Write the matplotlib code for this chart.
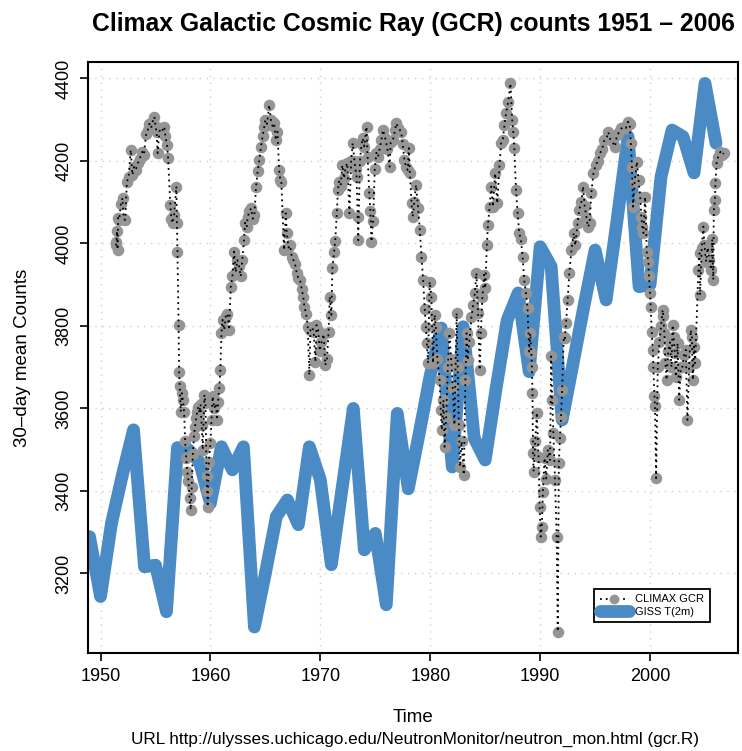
#!/usr/bin/env python3
# Climax GCR counts vs GISS T(2m), redrawn in matplotlib

import matplotlib
matplotlib.use('Agg')
import matplotlib.pyplot as plt
import numpy as np

plt.rcParams['font.family'] = ['Liberation Sans', 'DejaVu Sans']

# GISS T(2m), annual, scaled onto the count axis
giss_year = list(range(1949, 2007))
giss_scaled = [3289, 3144, 3322, 3440, 3548, 3216, 3220, 3107, 3505, 3500,
               3470, 3370, 3507, 3451, 3507, 3070, 3200, 3338, 3378, 3318,
               3507, 3427, 3221, 3410, 3600, 3257, 3297, 3124, 3588, 3405,
               3540, 3680, 3795, 3458, 3798, 3528, 3475, 3650, 3814, 3880,
               3689, 3992, 3944, 3572, 3710, 3850, 3984, 3863, 4057, 4259,
               3895, 3900, 4162, 4275, 4259, 4171, 4388, 4243]

# Climax neutron monitor, 30-day means
gcr_year = [
    1951.40, 1951.45, 1951.50, 1951.55, 1951.60, 1951.70, 1951.85, 1952.00,
    1952.10, 1952.25, 1952.40, 1952.55, 1952.75, 1952.90, 1953.05, 1953.20,
    1953.40, 1953.55, 1953.80, 1953.95, 1954.15, 1954.30, 1954.45, 1954.60,
    1954.75, 1954.90, 1955.00, 1955.10, 1955.20, 1955.35, 1955.50, 1955.65,
    1955.80, 1955.90, 1956.05, 1956.15, 1956.35, 1956.45, 1956.55, 1956.70,
    1956.90, 1956.95, 1957.00, 1957.10, 1957.15, 1957.20, 1957.30, 1957.40,
    1957.50, 1957.60, 1957.70, 1957.80, 1957.90, 1958.00, 1958.10, 1958.20,
    1958.30, 1958.40, 1958.50, 1958.60, 1958.70, 1958.80, 1958.90, 1959.00,
    1959.10, 1959.20, 1959.30, 1959.45, 1959.55, 1959.65, 1959.70, 1959.75,
    1959.85, 1960.00, 1960.10, 1960.20, 1960.35, 1960.50, 1960.60, 1960.70,
    1960.80, 1960.90, 1961.00, 1961.10, 1961.25, 1961.40, 1961.55, 1961.70,
    1961.85, 1962.00, 1962.15, 1962.30, 1962.45, 1962.60, 1962.75, 1962.90,
    1963.05, 1963.15, 1963.30, 1963.40, 1963.55, 1963.70, 1963.85, 1964.00,
    1964.15, 1964.30, 1964.45, 1964.60, 1964.75, 1964.90, 1965.00, 1965.15,
    1965.35, 1965.50, 1965.65, 1965.80, 1965.95, 1966.10, 1966.25, 1966.35,
    1966.45, 1966.70, 1966.85, 1966.95, 1967.10, 1967.25, 1967.40, 1967.55,
    1967.70, 1967.85, 1968.00, 1968.15, 1968.30, 1968.45, 1968.55, 1968.70,
    1968.85, 1969.00, 1969.10, 1969.25, 1969.40, 1969.55, 1969.65, 1969.80,
    1969.95, 1970.10, 1970.30, 1970.45, 1970.60, 1970.75, 1970.85, 1971.00,
    1971.10, 1971.25, 1971.35, 1971.50, 1971.60, 1971.70, 1971.85, 1972.00,
    1972.15, 1972.30, 1972.45, 1972.65, 1972.80, 1972.95, 1973.10, 1973.20,
    1973.30, 1973.40, 1973.45, 1973.60, 1973.75, 1973.85, 1974.00, 1974.20,
    1974.30, 1974.45, 1974.55, 1974.65, 1974.80, 1974.95, 1975.10, 1975.25,
    1975.40, 1975.55, 1975.70, 1975.90, 1976.10, 1976.30, 1976.40, 1976.60,
    1976.80, 1976.90, 1977.10, 1977.35, 1977.50, 1977.65, 1977.80, 1977.95,
    1978.05, 1978.15, 1978.30, 1978.40, 1978.55, 1978.70, 1978.90, 1979.05,
    1979.20, 1979.35, 1979.50, 1979.60, 1979.70, 1979.80, 1979.95, 1980.10,
    1980.25, 1980.40, 1980.50, 1980.65, 1980.85, 1980.95, 1981.05, 1981.20,
    1981.30, 1981.45, 1981.60, 1981.75, 1981.90, 1982.05, 1982.20, 1982.40,
    1982.50, 1982.60, 1982.70, 1982.85, 1983.05, 1983.20, 1983.30, 1983.40,
    1983.55, 1983.75, 1983.90, 1984.05, 1984.20, 1984.35, 1984.50, 1984.60,
    1984.75, 1984.90, 1985.00, 1985.15, 1985.25, 1985.40, 1985.55, 1985.70,
    1985.90, 1986.10, 1986.30, 1986.45, 1986.60, 1986.75, 1986.90, 1987.10,
    1987.30, 1987.45, 1987.55, 1987.65, 1987.80, 1987.95, 1988.10, 1988.25,
    1988.40, 1988.55, 1988.70, 1988.85, 1989.00, 1989.10, 1989.20, 1989.25,
    1989.30, 1989.35, 1989.40, 1989.55, 1989.70, 1989.85, 1989.95, 1990.05,
    1990.15, 1990.25, 1990.40, 1990.55, 1990.70, 1990.90, 1991.00, 1991.10,
    1991.20, 1991.35, 1991.50, 1991.60, 1991.70, 1991.80, 1991.90, 1992.00,
    1992.15, 1992.25, 1992.35, 1992.50, 1992.65, 1992.85, 1993.05, 1993.20,
    1993.40, 1993.55, 1993.75, 1993.90, 1994.05, 1994.20, 1994.35, 1994.50,
    1994.65, 1994.85, 1995.05, 1995.25, 1995.45, 1995.65, 1995.85, 1996.05,
    1996.20, 1996.40, 1996.60, 1996.80, 1997.00, 1997.20, 1997.40, 1997.60,
    1997.80, 1998.00, 1998.15, 1998.25, 1998.35, 1998.45, 1998.60, 1998.80,
    1998.95, 1999.10, 1999.20, 1999.30, 1999.40, 1999.55, 1999.70, 1999.85,
    1999.90, 2000.00, 2000.05, 2000.15, 2000.25, 2000.30, 2000.40, 2000.45,
    2000.55, 2000.70, 2000.85, 2001.00, 2001.15, 2001.20, 2001.30, 2001.40,
    2001.50, 2001.65, 2001.80, 2001.95, 2002.05, 2002.15, 2002.25, 2002.35,
    2002.50, 2002.65, 2002.80, 2002.95, 2003.10, 2003.25, 2003.40, 2003.55,
    2003.70, 2003.80, 2003.90, 2004.00, 2004.10, 2004.40, 2004.50, 2004.55,
    2004.70, 2004.85, 2004.95, 2005.10, 2005.25, 2005.40, 2005.55, 2005.65,
    2005.75, 2005.80, 2005.90, 2005.95, 2006.05, 2006.20, 2006.40, 2006.55,
    2006.70]
gcr_counts = [
    3995, 4004, 4030, 3985, 4062, 4058, 4095, 4110,
    4060, 4057, 4150, 4160, 4227, 4166, 4185, 4178,
    4195, 4205, 4222, 4215, 4265, 4275, 4290, 4280,
    4296, 4307, 4285, 4270, 4219, 4271, 4280, 4275,
    4283, 4260, 4239, 4206, 4093, 4060, 4049, 4070,
    4138, 4049, 3980, 3802, 3689, 3655, 3592, 3637,
    3620, 3592, 3520, 3479, 3445, 3425, 3382, 3354,
    3410, 3490, 3532, 3556, 3576, 3592, 3604, 3589,
    3610, 3560, 3500, 3633, 3612, 3435, 3400, 3362,
    3470, 3516, 3572, 3629, 3600, 3612, 3572, 3616,
    3649, 3693, 3782, 3815, 3790, 3825, 3830, 3790,
    3895, 3920, 3980, 3930, 3960, 3945, 3920, 3960,
    4008, 4050, 4040, 4065, 4078, 4085, 4060, 4070,
    4138, 4175, 4202, 4235, 4260, 4283, 4300, 4290,
    4336, 4300, 4285, 4291, 4250, 4271, 4178, 4155,
    4150, 3984, 4073, 4025, 3990, 3995, 3968, 3960,
    3950, 3928, 3915, 3912, 3890, 3870, 3847, 3830,
    3798, 3681, 3790, 3797, 3785, 3713, 3802, 3790,
    3740, 3760, 3780, 3705, 3720, 3785, 3871, 3827,
    3940, 3980, 4005, 4073, 4130, 4150, 4140, 4190,
    4158, 4185, 4195, 4073, 4200, 4243, 4200, 4180,
    4160, 4065, 4008, 4200, 4240, 4255, 4235, 4283,
    4210, 4122, 4078, 4004, 4055, 4180, 4220, 4210,
    4230, 4250, 4275, 4255, 4230, 4186, 4245, 4250,
    4275, 4291, 4280, 4271, 4240, 4202, 4185, 4178,
    4231, 4170, 4097, 4065, 4101, 4142, 4085, 4033,
    3968, 3912, 3840, 3798, 3758, 3710, 3907, 3871,
    3710, 3827, 3798, 3720, 3669, 3596, 3548, 3620,
    3507, 3580, 3700, 3782, 3720, 3650, 3560, 3831,
    3700, 3560, 3459, 3520, 3439, 3669, 3782, 3717,
    3760, 3822, 3851, 3879, 3928, 3831, 3693, 3782,
    3871, 3924, 3891, 3996, 4045, 4089, 4138, 4089,
    4170, 4097, 4190, 4243, 4250, 4287, 4316, 4344,
    4388, 4300, 4271, 4231, 4130, 4073, 4025, 4010,
    3968, 3911, 3880, 3843, 3738, 3782, 3734, 3701,
    3637, 3491, 3447, 3520, 3590, 3483, 3362, 3289,
    3313, 3398, 3480, 3430, 3500, 3475, 3726, 3620,
    3540, 3427, 3289, 3059, 3467, 3528, 3580, 3645,
    3774, 3770, 3806, 3863, 3928, 3984, 4025, 3995,
    4049, 4081, 4100, 4138, 4090, 4065, 4040, 4049,
    4122, 4170, 4190, 4200, 4219, 4230, 4250, 4255,
    4270, 4250, 4245, 4235, 4263, 4270, 4279, 4283,
    4280, 4295, 4290, 4243, 4186, 4089, 4150, 4198,
    4154, 4113, 4065, 4041, 4025, 4113, 3980, 3956,
    3920, 3879, 3847, 3786, 3742, 3701, 3629, 3605,
    3431, 3700, 3760, 3800, 3839, 3825, 3782, 3710,
    3669, 3740, 3760, 3700, 3802, 3774, 3734, 3677,
    3758, 3621, 3700, 3701, 3730, 3742, 3572, 3700,
    3790, 3774, 3669, 3750, 3710, 3936, 3976, 3875,
    3990, 4041, 3996, 3956, 3990, 3960, 3936, 4010,
    3912, 4081, 4105, 4146, 4194, 4210, 4222, 4215,
    4219]

x_ticks = [1950, 1960, 1970, 1980, 1990, 2000]
y_ticks = [3200, 3400, 3600, 3800, 4000, 4200, 4400]

GISS_BLUE = '#4a8bc6'
GCR_GRAY = '#959595'


def main():
    fig = plt.figure(figsize=(7.42, 7.51), dpi=100)
    ax = fig.add_axes([0.1186, 0.1305, 0.876, 0.787])

    ax.grid(True, color='#cfcfcf', linestyle=(0, (1, 4)), linewidth=1.0)
    ax.set_axisbelow(True)

    ax.plot(giss_year, giss_scaled, color=GISS_BLUE, linewidth=9.2,
            solid_capstyle='round', solid_joinstyle='round', zorder=2,
            label='GISS T(2m)')
    ax.plot(gcr_year, gcr_counts, linestyle='none', marker='o',
            markersize=7.3, markerfacecolor=GCR_GRAY,
            markeredgecolor=GCR_GRAY, zorder=3)
    ax.plot(gcr_year, gcr_counts, color='black', linestyle=(0, (1, 2.2)),
            linewidth=1.3, zorder=4)
    # legend proxy: gray point over a dotted line
    ax.plot([], [], color='black', linestyle=(0, (1, 2.2)), linewidth=1.3,
            marker='o', markersize=6, markerfacecolor=GCR_GRAY,
            markeredgecolor=GCR_GRAY, label='CLIMAX GCR')

    ax.set_xlim(1948.86, 2008.0)
    ax.set_ylim(3007, 4440)
    ax.set_xticks(x_ticks)
    ax.set_yticks(y_ticks)
    ax.set_xticklabels([str(v) for v in x_ticks])
    ax.set_yticklabels([str(v) for v in y_ticks], rotation=90, va='center')
    ax.tick_params(direction='out', length=6, width=1.2, labelsize=13,
                   pad=5)
    for sp in ax.spines.values():
        sp.set_linewidth(1.5)

    ax.set_title('Climax Galactic Cosmic Ray (GCR) counts 1951 \u2013 2006',
                 fontsize=17.8, fontweight='bold', pad=22)
    ax.set_ylabel('30\u2013day mean Counts', fontsize=13.5, labelpad=18)
    ax.set_xlabel('Time', fontsize=13.5, labelpad=17)
    fig.text(0.5 + 0.0593, 0.005,
             'URL http://ulysses.uchicago.edu/NeutronMonitor/neutron_mon.html (gcr.R)',
             ha='center', va='bottom', fontsize=12.3)

    handles, labels = ax.get_legend_handles_labels()
    order = [labels.index('CLIMAX GCR'), labels.index('GISS T(2m)')]
    leg = ax.legend([handles[i] for i in order], [labels[i] for i in order],
                    loc='lower right', bbox_to_anchor=(0.957, 0.052),
                    fontsize=8, frameon=True, fancybox=False,
                    edgecolor='black', framealpha=1, borderpad=0.5,
                    labelspacing=0.2, handlelength=2.6, handletextpad=0.6,
                    borderaxespad=0)
    leg.get_frame().set_linewidth(1.3)

    fig.savefig('out.png', dpi=100)


if __name__ == '__main__':
    main()
